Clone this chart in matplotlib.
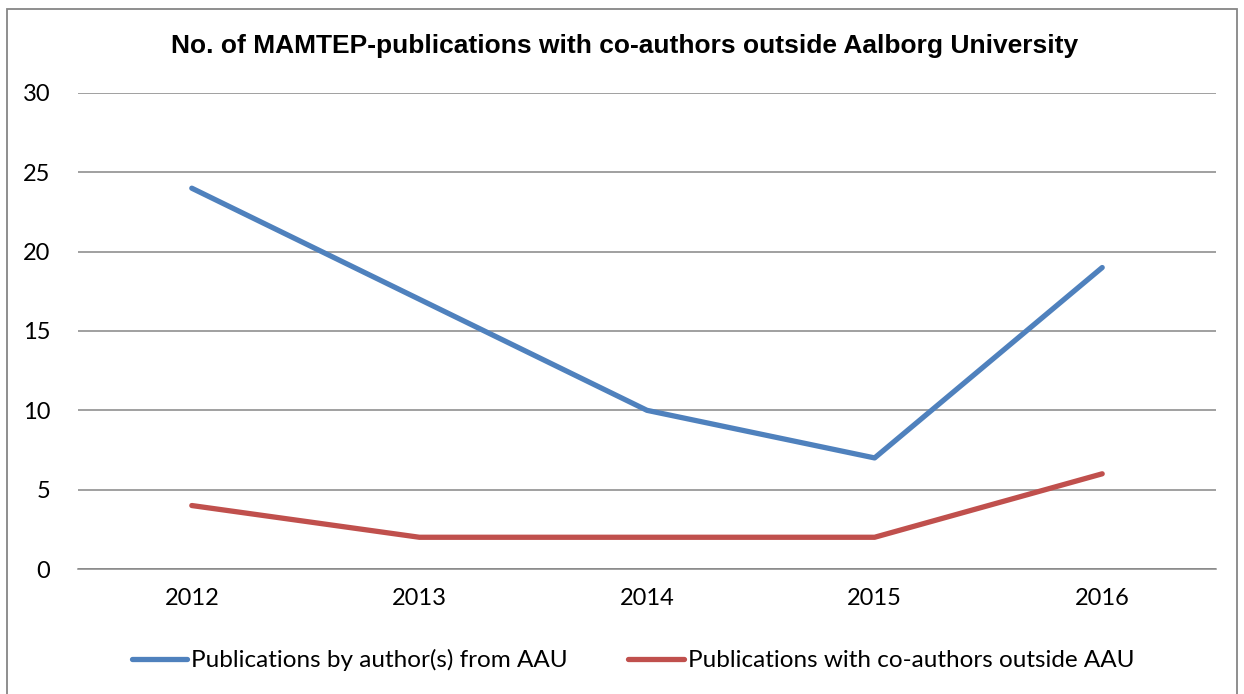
import matplotlib.pyplot as plt
from matplotlib.patches import Rectangle

years = ['2012', '2013', '2014', '2015', '2016']
aau_only = [24, 17, 10, 7, 19]
co_outside = [4, 2, 2, 2, 6]
yticks = [0, 5, 10, 15, 20, 25, 30]

labels = ['Publications by author(s) from AAU',
          'Publications with co-authors outside AAU']
colors = ['#4F81BD', '#C0504D']

fig = plt.figure(figsize=[12.44, 6.94], dpi=100)
ax = fig.add_axes([78/1244, 1 - 569/694, 1138/1244, 476/694])

x = list(range(len(years)))
ax.plot(x, aau_only, color=colors[0], lw=3.8, label=labels[0],
        solid_joinstyle='round', solid_capstyle='round')
ax.plot(x, co_outside, color=colors[1], lw=3.8, label=labels[1],
        solid_joinstyle='round', solid_capstyle='round')

ax.set_xlim(-0.5, 4.5)
ax.set_ylim(0, 30)
ax.set_yticks(yticks)
ax.set_xticks(x)
ax.set_xticklabels(years)
ax.grid(axis='y', color='#868686', lw=1.1)
ax.set_axisbelow(True)
for side in ['left', 'right', 'top']:
    ax.spines[side].set_visible(False)
ax.spines['bottom'].set_color('#868686')
ax.spines['bottom'].set_linewidth(1.1)
ax.tick_params(axis='both', length=0, labelsize=17)
ax.tick_params(axis='y', pad=20)
ax.tick_params(axis='x', pad=14)
for t in ax.get_xticklabels() + ax.get_yticklabels():
    t.set_family('Lato')

fig.text(625/1244, 1 - 46/694, 'No. of MAMTEP-publications with co-authors outside Aalborg University',
         ha='center', va='center', fontsize=19, fontweight='bold',
         family='Liberation Sans')

leg = fig.legend(loc='center', bbox_to_anchor=(633/1244, 1 - 660/694), ncol=2,
                 frameon=False, prop={'family': 'Lato', 'size': 17.5},
                 handlelength=2.3, handletextpad=0.15, columnspacing=2.5)

fig.patches.append(Rectangle((7/1244, -0.01), 1230/1244, 1 - 9/694 + 0.01,
                             transform=fig.transFigure, fill=False,
                             edgecolor='#868686', lw=1.3))

plt.savefig('out.png', dpi=100)
